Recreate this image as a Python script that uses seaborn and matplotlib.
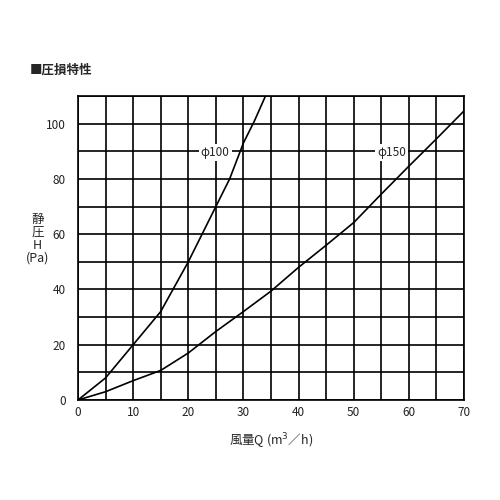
import seaborn as sns
import pandas as pd
import numpy as np
import matplotlib
matplotlib.use("Agg")
import matplotlib.pyplot as plt

sns.set_style("white")
plt.rcParams['font.family'] = ['Noto Sans CJK JP', 'DejaVu Sans']

# 風量 Q (m3/h) vs 静圧 H (Pa)
q_100 = [0, 5, 10, 15, 20, 25, 27.5, 30, 32, 34]
h_100 = [0, 8, 20, 32, 50, 70, 80, 93, 101, 110]

q_150 = [0, 5, 10, 15, 20, 25, 30, 35, 40, 45, 50, 55, 60, 65, 70]
h_150 = [0, 3, 7, 10.7, 17, 24.8, 32, 39.4, 48, 56, 64.2, 74.5, 84.6, 94.5, 104.6]

curve_names = ["φ100", "φ150"]
label_pos = [(24.9, 89.5), (56.9, 89.5)]

df = pd.concat([
    pd.DataFrame({"Q": q_100, "H": h_100, "size": curve_names[0]}),
    pd.DataFrame({"Q": q_150, "H": h_150, "size": curve_names[1]}),
])

fig = plt.figure(figsize=(5, 5), dpi=100)
ax = fig.add_axes([0.156, 0.2, 0.772, 0.608])

sns.lineplot(data=df, x="Q", y="H", units="size", estimator=None,
             color="black", lw=1.2, sort=False, ax=ax, legend=False)

ax.set_xlim(0, 70)
ax.set_ylim(0, 110)
ax.set_xticks(np.arange(0, 71, 5), minor=True)
ax.set_yticks(np.arange(0, 111, 10), minor=True)
ax.set_xticks(np.arange(0, 71, 10))
ax.set_yticks(np.arange(0, 101, 20))
ax.grid(True, which="both", color="black", lw=1.2)
ax.set_axisbelow(True)
for s in ax.spines.values():
    s.set_color("black")
    s.set_linewidth(1.2)
ax.tick_params(which="both", length=0, labelsize=8.5, colors="#222222")
ax.tick_params(axis="x", pad=4)
ax.tick_params(axis="y", pad=9)

for name, (x, y) in zip(curve_names, label_pos):
    ax.text(x, y, name, ha="center", va="center", fontsize=8.5,
            bbox=dict(facecolor="white", edgecolor="none", pad=1.5))

ax.set_xlabel("風量Q (m$^3$／h)", fontsize=9)
ax.xaxis.set_label_coords(0.5, -0.105)
ax.set_ylabel("静\n圧\nH\n(Pa)", rotation=0, fontsize=9, linespacing=1.0,
              va="center", ha="center")
ax.yaxis.set_label_coords(-0.105, 0.53)

fig.text(0.06, 0.86, "■圧損特性", fontsize=9, fontweight="bold",
         va="center", ha="left")

fig.savefig("out.png", dpi=100, facecolor="white")
